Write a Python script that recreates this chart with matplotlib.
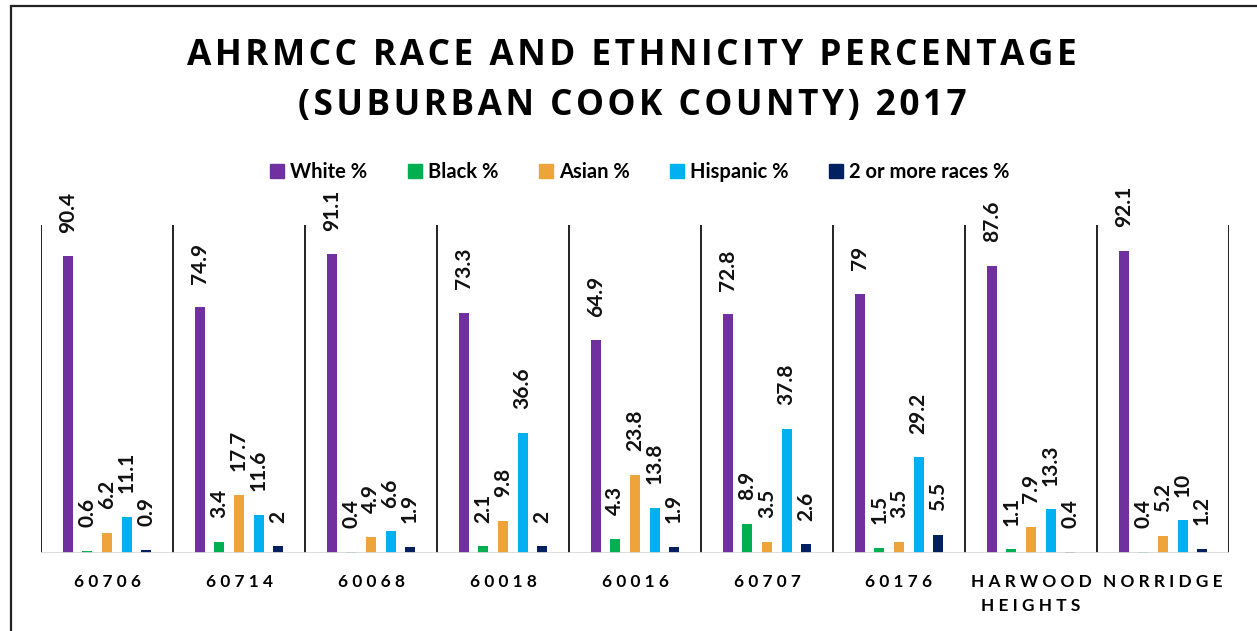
import matplotlib
matplotlib.use("Agg")
import matplotlib.pyplot as plt
import numpy as np
from matplotlib.patches import Patch, Rectangle

# race / ethnicity shares by area
areas = ["60706", "60714", "60068", "60018", "60016", "60707", "60176",
         "HARWOOD\nHEIGHTS", "NORRIDGE"]
series = ["White %", "Black %", "Asian %", "Hispanic %", "2 or more races %"]
white = [90.4, 74.9, 91.1, 73.3, 64.9, 72.8, 79, 87.6, 92.1]
black = [0.6, 3.4, 0.4, 2.1, 4.3, 8.9, 1.5, 1.1, 0.4]
asian = [6.2, 17.7, 4.9, 9.8, 23.8, 3.5, 3.5, 7.9, 5.2]
hispanic = [11.1, 11.6, 6.6, 36.6, 13.8, 37.8, 29.2, 13.3, 10]
multi = [0.9, 2, 1.9, 2, 1.9, 2.6, 5.5, 0.4, 1.2]
colors = ["#7030A0", "#00B050", "#EDA43A", "#00B0F0", "#002060"]

values = [white, black, asian, hispanic, multi]


def spaced(s, sep=" "):
    # widen the letter spacing by putting a separator between characters
    return "\n".join(sep.join(line) for line in s.split("\n"))


fig = plt.figure(figsize=(12.57, 6.31), dpi=100)
ax = fig.add_axes([41 / 1257, 1 - 553 / 631, (1229 - 41) / 1257, (553 - 225) / 631])

x = np.arange(len(areas))
step = 0.148
width = 0.076
for i, (vals, col) in enumerate(zip(values, colors)):
    pos = x + (i - 2) * step
    ax.bar(pos, vals, width=width, color=col, zorder=3)
    for p, v in zip(pos, vals):
        ax.annotate(f"{v:g}", (p, v), xytext=(0, 17), textcoords="offset points",
                    rotation=90, ha="center", va="bottom", fontsize=15,
                    fontweight="bold", family="Lato", color="#111111")

ax.set_xlim(-0.5, len(areas) - 0.5)
ax.set_ylim(0, 100)
for b in np.arange(-0.5, len(areas), 1.0):
    ax.axvline(b, color="#222222", lw=1.4, zorder=2)
ax.axhline(0, color="#d9d9d9", lw=2, zorder=4)
for s in ax.spines.values():
    s.set_visible(False)
ax.set_yticks([])
ax.set_xticks(x)
ax.set_xticklabels([spaced(a) for a in areas], fontsize=12.4, fontweight="bold",
                   family="Lato", linespacing=1.65, va="top")
ax.tick_params(axis="x", length=0, pad=15)

# title with wide tracking
title = "AHRMCC RACE AND ETHNICITY PERCENTAGE\n(SUBURBAN COOK COUNTY) 2017"
fig.text(0.503, 1 - 81 / 631, spaced(title, "\u200a"), ha="center", va="center",
         fontsize=25.4, fontweight="bold", family=["Open Sans", "DejaVu Sans"],
         linespacing=1.55)

handles = [Patch(color=c) for c in colors]
fig.legend(handles, series, loc="center", bbox_to_anchor=(0.509, 1 - 172 / 631),
           ncol=5, frameon=False, handlelength=0.7, handleheight=0.7,
           handletextpad=0.3, columnspacing=2.0,
           prop={"family": "Lato", "weight": "bold", "size": 14.5})

# chart border (only top and left edges fall inside the image)
fig.add_artist(Rectangle((11 / 1257, -0.2), 1.2, 1.2 - 6 / 631,
                         transform=fig.transFigure, fill=False,
                         ec="#222222", lw=1.6))

fig.savefig("out.png", dpi=100)
